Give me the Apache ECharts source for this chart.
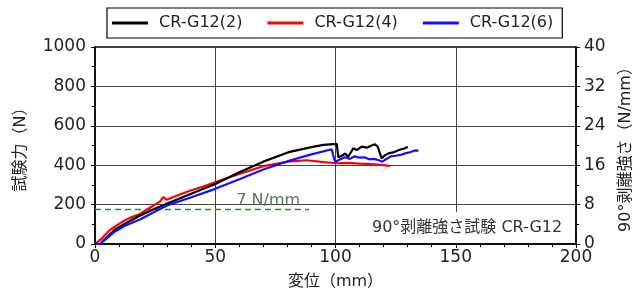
<!DOCTYPE html>
<html><head><meta charset="utf-8">
<script src="https://cdn.jsdelivr.net/npm/echarts@6/dist/echarts.min.js"></script>
<style>html,body{margin:0;padding:0;background:#fff}#c{width:643px;height:297px}</style>
</head><body><div id="c"></div>
<script>
const seriesNames = ['CR-G12(2)', 'CR-G12(4)', 'CR-G12(6)'];
const xTicks = [0, 50, 100, 150, 200];
const yLeftTicks = [0, 200, 400, 600, 800, 1000];
const yRightTicks = [0, 8, 16, 24, 32, 40];

const blackX = [0,2,5,8,12,18,25,30,40,50,60,70,81,90,95,100.5,101.2,103,104,105.3,107.4,108.8,110.9,113,115,116.4,117.5,119.2,120.5,122,124,125.4,127,128.9,130];
const blackY = [0,0,35,70,100,140,180,205,255,305,364,418,468,492,503,508,440,450,460,443,486,477,494,489,500,506,495,435,450,460,465,472,480,486,494];

const redX = [0,3,6.2,10.4,14,18.7,23,27,28.4,29.8,35,39.5,45,52,60,70,81,88,95,100.5,101,105,110,115,120,122.7];
const redY = [0,30,71,105,130,152,185,215,238,225,250,270,292,322,356,395,419,425,416,410,418,412,408,405,400,395];

const blueX = [0,2,4,8,12,18.7,25,30,39.5,50,60.3,70,81,90,98.4,99.5,100,102,104,106,108,110,112,114,116,118,119.5,121,123,125,127,129,131,133,134.5];
const blueY = [0,0,20,60,90,124,165,195,235,280,330,378,424,455,481,430,418,430,440,432,445,438,440,430,432,425,418,430,445,448,452,460,466,475,474];

const refValue = 175;           // 7 N/mm
const refX = [0, 89];
const refLabel = '7 N/mm';
const refLabelX = 72;
const noteText = '90°剥離強さ試験 CR-G12';

const zip = (xs, ys) => xs.map((x, i) => [x, ys[i]]);
const font = '"DejaVu Sans", "Noto Sans CJK JP", sans-serif';

const chart = echarts.init(document.getElementById('c'));
const lbl = { fontSize: 17, color: '#222', fontFamily: font, formatter: v => String(v) };
chart.setOption({
  animation: false,
  textStyle: { fontFamily: font },
  grid: { left: 95, right: 67, top: 47, bottom: 53, show: true, borderColor: '#000', borderWidth: 1.5 },
  legend: {
    data: seriesNames, left: 107, top: 8, padding: [7, 9, 7, 5],
    borderColor: '#000', borderWidth: 1.2, itemWidth: 36, itemHeight: 3, itemGap: 25,
    textStyle: { fontSize: 16, color: '#222', fontFamily: font, padding: [0, 0, 0, 6] },
    icon: 'rect'
  },
  xAxis: {
    type: 'value', min: xTicks[0], max: xTicks[xTicks.length - 1], interval: 50,
    name: '変位（mm）', nameLocation: 'middle', nameGap: 30,
    nameTextStyle: { fontSize: 16, color: '#222', fontFamily: font },
    axisLine: { lineStyle: { color: '#000', width: 1.5 } },
    axisTick: { show: true, length: 4, lineStyle: { color: '#000' } },
    minorTick: { show: true, splitNumber: 5, length: 3, lineStyle: { color: '#000' } },
    axisLabel: Object.assign({ margin: 5 }, lbl),
    splitLine: { show: true, lineStyle: { color: '#444', width: 1 } }
  },
  yAxis: [{
    type: 'value', min: yLeftTicks[0], max: yLeftTicks[yLeftTicks.length - 1], interval: 200,
    name: '試験力（N）', nameLocation: 'middle', nameGap: 66, nameRotate: 90,
    nameTextStyle: { fontSize: 16, color: '#222', fontFamily: font },
    axisLine: { show: true, lineStyle: { color: '#000', width: 1.5 } },
    axisTick: { show: true, length: 4, lineStyle: { color: '#000' } },
    minorTick: { show: true, splitNumber: 2, length: 3, lineStyle: { color: '#000' } },
    axisLabel: Object.assign({ margin: 9 }, lbl),
    splitLine: { show: true, lineStyle: { color: '#444', width: 1 } }
  }, {
    type: 'value', position: 'right', min: yRightTicks[0], max: yRightTicks[yRightTicks.length - 1], interval: 8,
    name: '90°剥離強さ（N/mm）', nameLocation: 'middle', nameGap: 42, nameRotate: 90,
    nameTextStyle: { fontSize: 16, color: '#222', fontFamily: font },
    axisLine: { show: true, lineStyle: { color: '#000', width: 1.5 } },
    axisTick: { show: true, length: 4, lineStyle: { color: '#000' } },
    minorTick: { show: true, splitNumber: 2, length: 3, lineStyle: { color: '#000' } },
    axisLabel: Object.assign({ margin: 8 }, lbl),
    splitLine: { show: false }
  }],
  series: [
    { name: '7 N/mm', type: 'line', data: refX.map(x => [x, refValue]), showSymbol: false, silent: true,
      lineStyle: { color: '#2e8b2e', width: 1.5, type: [6, 4] }, z: 1,
      markPoint: { symbol: 'rect', symbolSize: 0, silent: true,
        data: [{ coord: [refLabelX, refValue], label: { show: true, formatter: refLabel, position: 'top', distance: 1,
          fontSize: 16, color: '#4f7f47', fontFamily: font } }] } },
    { name: seriesNames[0], type: 'line', data: zip(blackX, blackY), showSymbol: false, color: '#000',
      lineStyle: { width: 2.2 }, z: 4 },
    { name: seriesNames[1], type: 'line', data: zip(redX, redY), showSymbol: false, color: '#ff0000',
      lineStyle: { width: 2.2 }, z: 3 },
    { name: seriesNames[2], type: 'line', data: zip(blueX, blueY), showSymbol: false, color: '#1010ff',
      lineStyle: { width: 2.2 }, z: 5 }
  ],
  graphic: [
    { type: 'rect', shape: { x: 366, y: 212, width: 208, height: 31 }, style: { fill: '#fff' }, z: 10 },
    { type: 'text', x: 372, y: 228, style: { text: noteText, font: '16px ' + font, fill: '#333', verticalAlign: 'middle' }, z: 11 }
  ]
});
</script></body></html>
